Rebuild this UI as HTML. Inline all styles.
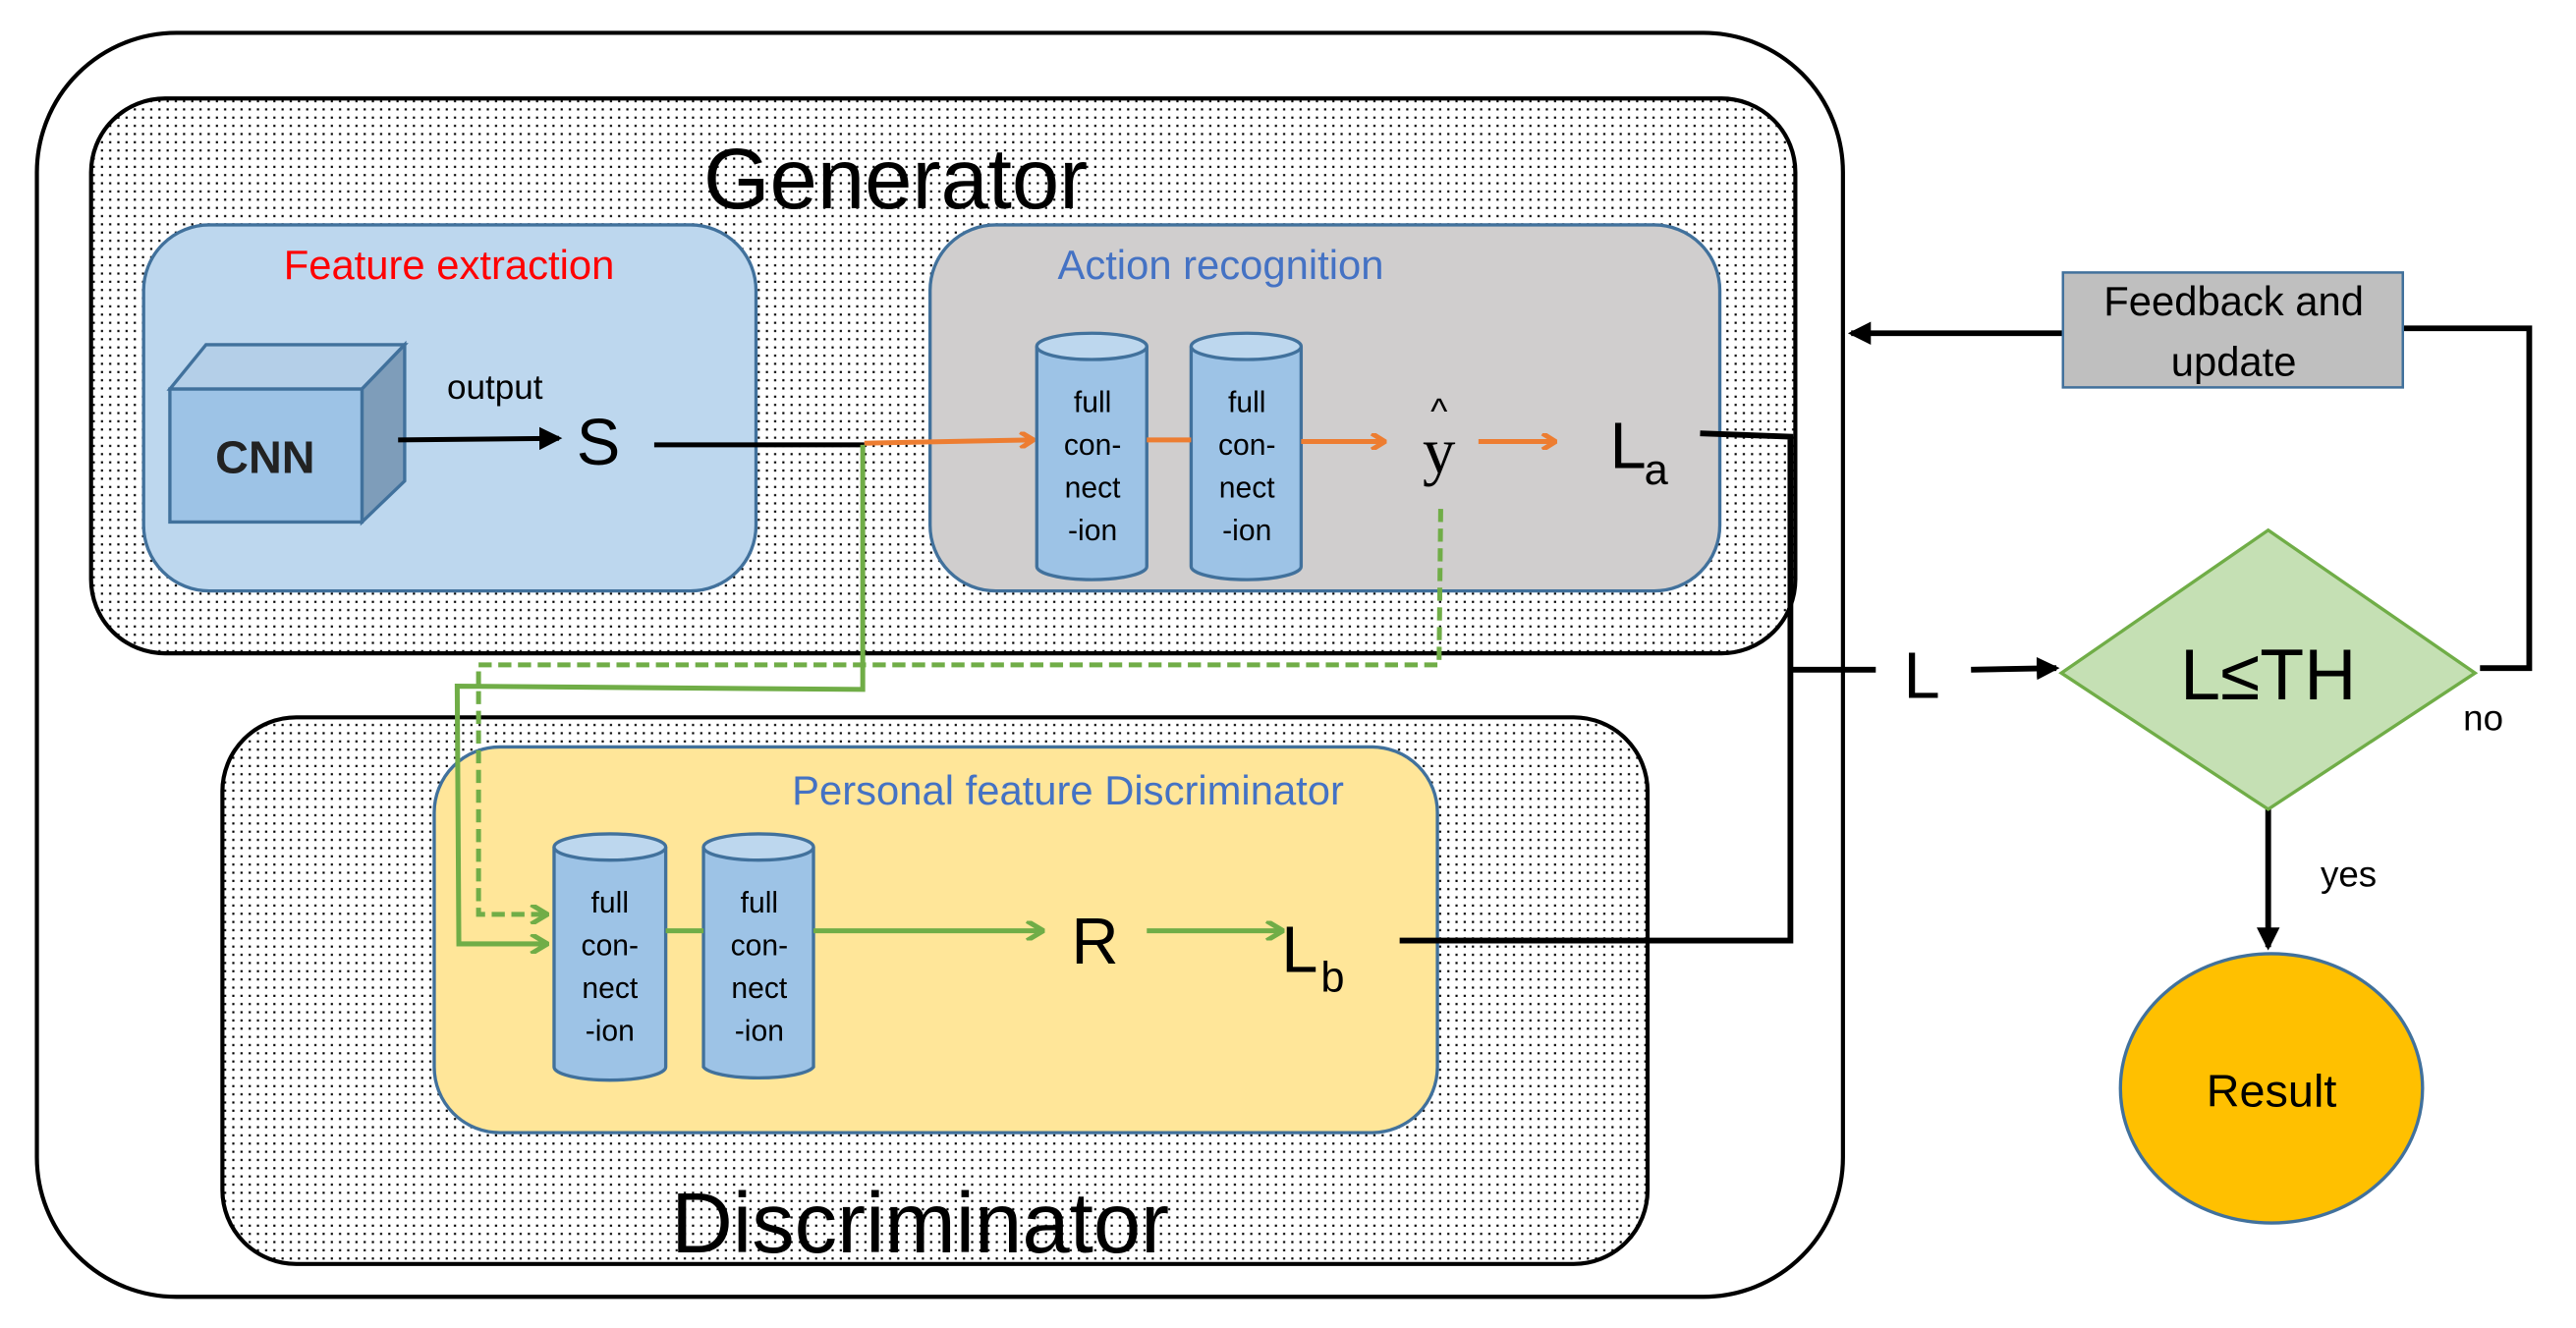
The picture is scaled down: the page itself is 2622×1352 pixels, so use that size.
<!DOCTYPE html>
<html><head><meta charset="utf-8"><style>html,body{margin:0;padding:0;background:#fff}svg{display:block}</style></head><body>
<svg width="2622" height="1352" viewBox="0 0 1568 809" xmlns="http://www.w3.org/2000/svg" font-family="Liberation Sans, sans-serif">
<defs>
<pattern id="dots" width="5" height="5" patternUnits="userSpaceOnUse"><rect width="5" height="5" fill="#fff"/><rect x="1" y="1" width="1.3" height="1.3" fill="#000"/></pattern>
<marker id="ao" markerWidth="10" markerHeight="10" refX="8" refY="5" orient="auto" markerUnits="userSpaceOnUse"><path d="M1,0 L9,5 L1,10" fill="none" stroke="#ed7d31" stroke-width="3"/></marker>
<marker id="ag" markerWidth="12" markerHeight="12" refX="10" refY="6" orient="auto" markerUnits="userSpaceOnUse"><path d="M1,0 L11,6 L1,12" fill="none" stroke="#70ad47" stroke-width="3"/></marker>
<marker id="ab" markerWidth="14" markerHeight="14" refX="12" refY="7" orient="auto" markerUnits="userSpaceOnUse"><path d="M0,0 L14,7 L0,14 Z" fill="#000"/></marker>
</defs>
<rect x="22" y="20" width="1100" height="770" rx="85" fill="#fff" stroke="#000" stroke-width="2.5"/>
<rect x="55" y="60" width="1038" height="338" rx="45" fill="url(#dots)" stroke="#000" stroke-width="2.5"/>
<rect x="135" y="437" width="868" height="333" rx="45" fill="url(#dots)" stroke="#000" stroke-width="2.5"/>
<text x="545" y="127" font-size="52" text-anchor="middle">Generator</text>
<text x="560" y="763" font-size="52" text-anchor="middle">Discriminator</text>
<rect x="87" y="137" width="373" height="223" rx="40" fill="#bdd7ee" stroke="#41719c" stroke-width="2"/>
<rect x="566" y="137" width="481" height="223" rx="40" fill="#d0cece" stroke="#41719c" stroke-width="2"/>
<rect x="264" y="455" width="611" height="235" rx="40" fill="#ffe699" stroke="#41719c" stroke-width="2"/>
<text x="273" y="170" font-size="25" fill="#ff0000" text-anchor="middle">Feature extraction</text>
<text x="743" y="170" font-size="25" fill="#4472c4" text-anchor="middle">Action recognition</text>
<text x="650" y="490" font-size="25" fill="#4472c4" text-anchor="middle">Personal feature Discriminator</text>
<polygon points="103,237 125,210 246,210 220,237" fill="#b4cfe8" stroke="#41719c" stroke-width="2"/>
<polygon points="220,237 246,210 246,293 220,318" fill="#7e9dba" stroke="#41719c" stroke-width="2"/>
<rect x="103" y="237" width="117" height="81" fill="#9dc3e6" stroke="#41719c" stroke-width="2"/>
<text x="161" y="288" font-size="28" font-weight="bold" text-anchor="middle" fill="#222">CNN</text>
<text x="301" y="243" font-size="21" text-anchor="middle">output</text>
<line x1="242" y1="268" x2="340" y2="267" stroke="#000" stroke-width="3" marker-end="url(#ab)"/>
<text x="364" y="283" font-size="40" text-anchor="middle">S</text>
<line x1="398" y1="271" x2="526" y2="271" stroke="#000" stroke-width="3"/>
<g stroke="#41719c" stroke-width="2" fill="#9dc3e6">
<path d="M631,211 v134 a33,8 0 0 0 67,0 v-134"/><ellipse cx="664.5" cy="211" rx="33.5" ry="8" fill="#bdd7ee"/>
<path d="M725,211 v134 a33,8 0 0 0 67,0 v-134"/><ellipse cx="758.5" cy="211" rx="33.5" ry="8" fill="#bdd7ee"/>
<path d="M337,516 v134 a34,8 0 0 0 68,0 v-134"/><ellipse cx="371" cy="516" rx="34" ry="8" fill="#bdd7ee"/>
<path d="M428,516 v134 a34,8 0 0 0 67,0 v-134"/><ellipse cx="461.5" cy="516" rx="33.5" ry="8" fill="#bdd7ee"/>
</g>
<g font-size="18" text-anchor="middle">
<text x="665" y="251">full</text><text x="665" y="277">con-</text><text x="665" y="303">nect</text><text x="665" y="329">-ion</text>
<text x="759" y="251">full</text><text x="759" y="277">con-</text><text x="759" y="303">nect</text><text x="759" y="329">-ion</text>
<text x="371" y="556">full</text><text x="371" y="582">con-</text><text x="371" y="608">nect</text><text x="371" y="634">-ion</text>
<text x="462" y="556">full</text><text x="462" y="582">con-</text><text x="462" y="608">nect</text><text x="462" y="634">-ion</text>
</g>
<g stroke="#ed7d31" stroke-width="3" fill="none">
<line x1="526" y1="270" x2="628" y2="268" marker-end="url(#ao)"/>
<line x1="698" y1="268" x2="725" y2="268"/>
<line x1="792" y1="269" x2="842" y2="269" marker-end="url(#ao)"/>
<line x1="900" y1="269" x2="946" y2="269" marker-end="url(#ao)"/>
</g>
<text x="876" y="288" font-size="40" text-anchor="middle" font-family="Liberation Serif, serif">y</text>
<text x="876" y="258" font-size="22" text-anchor="middle">^</text>
<text x="980" y="285" font-size="40">L</text><text x="1001" y="295" font-size="26">a</text>
<text x="652" y="587" font-size="40">R</text>
<text x="780" y="592" font-size="40">L</text><text x="804" y="604" font-size="26">b</text>
<g stroke="#70ad47" stroke-width="3" fill="none">
<polyline points="525,271 525,420 278,418 279,575 332,575" marker-end="url(#ag)"/>
<polyline points="877,310 876,405 291,405 291,557 332,557" stroke-dasharray="8,4" marker-end="url(#ag)"/>
<line x1="405" y1="567" x2="428" y2="567"/>
<line x1="495" y1="567" x2="634" y2="567" marker-end="url(#ag)"/>
<line x1="698" y1="567" x2="780" y2="567" marker-end="url(#ag)"/>
</g>
<g stroke="#000" stroke-width="3.5" fill="none">
<polyline points="1035,264 1090,266 1090,573 852,573"/>
<line x1="1090" y1="408" x2="1142" y2="408"/>
<line x1="1200" y1="408" x2="1252" y2="407" marker-end="url(#ab)"/>
<polyline points="1510,407 1540,407 1540,200 1463,200"/>
<line x1="1256" y1="203" x2="1127" y2="203" marker-end="url(#ab)"/>
<line x1="1381" y1="493" x2="1381" y2="577" marker-end="url(#ab)"/>
</g>
<text x="1170" y="425" font-size="40" text-anchor="middle">L</text>
<rect x="1256" y="166" width="207" height="70" fill="#bfbfbf" stroke="#41719c" stroke-width="1.5"/>
<text x="1360" y="192" font-size="25" text-anchor="middle">Feedback and</text>
<text x="1360" y="229" font-size="25" text-anchor="middle">update</text>
<polygon points="1381,323 1507,410 1381,493 1255,410" fill="#c5e0b4" stroke="#70ad47" stroke-width="2"/>
<text x="1381" y="426" font-size="44" text-anchor="middle">L≤TH</text>
<text x="1512" y="445" font-size="22" text-anchor="middle">no</text>
<text x="1430" y="540" font-size="22" text-anchor="middle">yes</text>
<ellipse cx="1383" cy="663" rx="92" ry="82" fill="#ffc000" stroke="#41719c" stroke-width="2"/>
<text x="1383" y="674" font-size="28" text-anchor="middle">Result</text>
</svg>
</body></html>
